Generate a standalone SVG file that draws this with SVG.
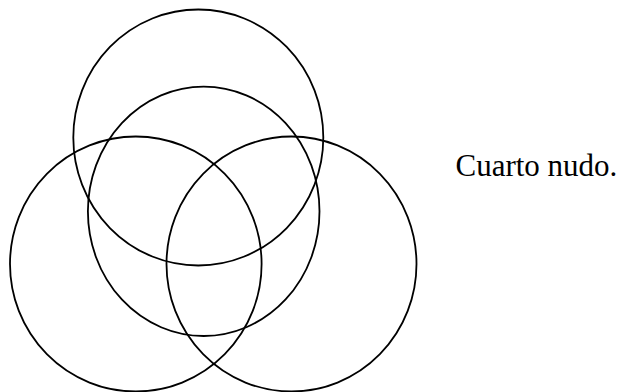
<svg xmlns="http://www.w3.org/2000/svg" width="623" height="392" viewBox="0 0 623 392">
<style>
.ring{fill:none;stroke:#000;stroke-width:1.8}
.lbl{font-family:"Liberation Serif","Times New Roman",serif;font-size:31px;fill:#000}
</style>
<rect width="623" height="392" fill="#fff"/>
<g id="top"><ellipse class="ring" cx="198.3" cy="137.5" rx="125" ry="128"/></g>
<g id="middle"><ellipse class="ring" cx="203.7" cy="211.3" rx="115.8" ry="124.7"/></g>
<g id="left"><ellipse class="ring" cx="135.8" cy="264" rx="125.8" ry="127.5"/></g>
<g id="right"><ellipse class="ring" cx="291.5" cy="264" rx="125" ry="127.5"/></g>
<g id="connectors"/>
<text class="lbl" x="455.5" y="176">Cuarto nudo.</text>
</svg>
